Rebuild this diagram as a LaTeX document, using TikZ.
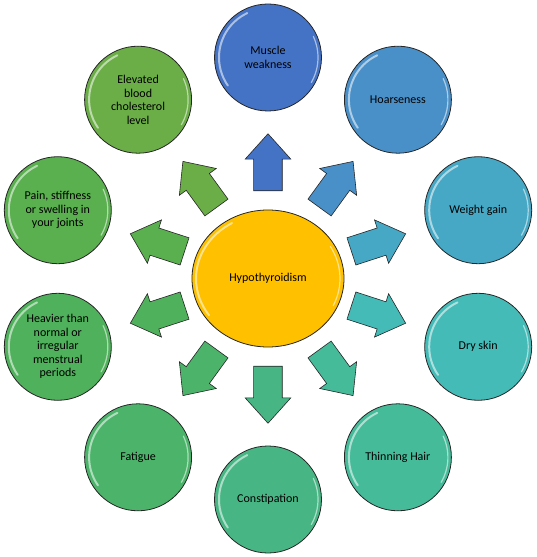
\documentclass[tikz,border=0pt]{standalone}
\usepackage{fontspec}
\setmainfont{Carlito}
\usetikzlibrary{shapes.geometric,shapes.arrows,calc}

\definecolor{hypocol}{HTML}{FFC000}
\definecolor{cA}{HTML}{4472C4}
\definecolor{cB}{HTML}{4A90C8}
\definecolor{cC}{HTML}{46A8C4}
\definecolor{cD}{HTML}{45BBB8}
\definecolor{cE}{HTML}{46BB9A}
\definecolor{cF}{HTML}{47B684}
\definecolor{cG}{HTML}{4CB46A}
\definecolor{cH}{HTML}{50B15C}
\definecolor{cI}{HTML}{5AAF4F}
\definecolor{cJ}{HTML}{6BAD47}

\tikzset{
  symptom/.style={circle, draw=black!85, line width=0.8pt, minimum size=107pt,
    inner sep=0pt, align=center, font=\fontsize{12}{13.5}\selectfont},
  blockarrow/.style={single arrow, draw=black!85, line width=0.6pt,
    minimum height=57pt, minimum width=45pt, single arrow head extend=8.5pt,
    single arrow tip angle=84, inner xsep=0pt, inner ysep=14pt},
  gloss/.style={white, opacity=0.55, line width=2pt, line cap=round}
}

\begin{document}
\begin{tikzpicture}[x=1pt,y=1pt]
    \useasboundingbox (-268,-278.5) rectangle (268,278.5);

    % Centre
    \node[ellipse, draw=black!85, line width=0.8pt, fill=hypocol, minimum width=152pt,
      minimum height=137pt, font=\fontsize{12}{13.5}\selectfont] (hypo) at (0,0) {Hypothyroidism};
    \draw[gloss] (hypo.center) ++(120:72 and 64) arc[start angle=120, end angle=215, x radius=72, y radius=64];
    \draw[gloss, line width=1.2pt] (hypo.center) ++(-25:72 and 64) arc[start angle=-25, end angle=30, x radius=72, y radius=64];

    % Symptoms and arrows
    \foreach \name/\ang/\col/\txt in {
        muscle/90/cA/{Muscle\\weakness},
        hoarse/54/cB/{Hoarseness},
        weight/18/cC/{Weight gain},
        dryskin/-18/cD/{Dry skin},
        hair/-54/cE/{Thinning Hair},
        constip/-90/cF/{Constipation},
        fatigue/-126/cG/{Fatigue},
        periods/-162/cH/{Heavier than\\normal or\\irregular\\menstrual\\periods},
        joints/162/cI/{Pain, stiffness\\or swelling in\\your joints},
        chol/126/cJ/{Elevated\\blood\\cholesterol\\level}}
    {
        \node[symptom, fill=\col] (\name) at (\ang:221) {\txt};
        \draw[gloss] (\name.center) ++(115:49) arc[start angle=115, end angle=215, radius=49];
        \draw[gloss, line width=1.2pt] (\name.center) ++(-30:50) arc[start angle=-30, end angle=25, radius=50];
        \node[blockarrow, fill=\col, rotate=\ang] (\name-arrow) at ($(hypo)!0.49!(\name)$) {};
    }
\end{tikzpicture}
\end{document}
